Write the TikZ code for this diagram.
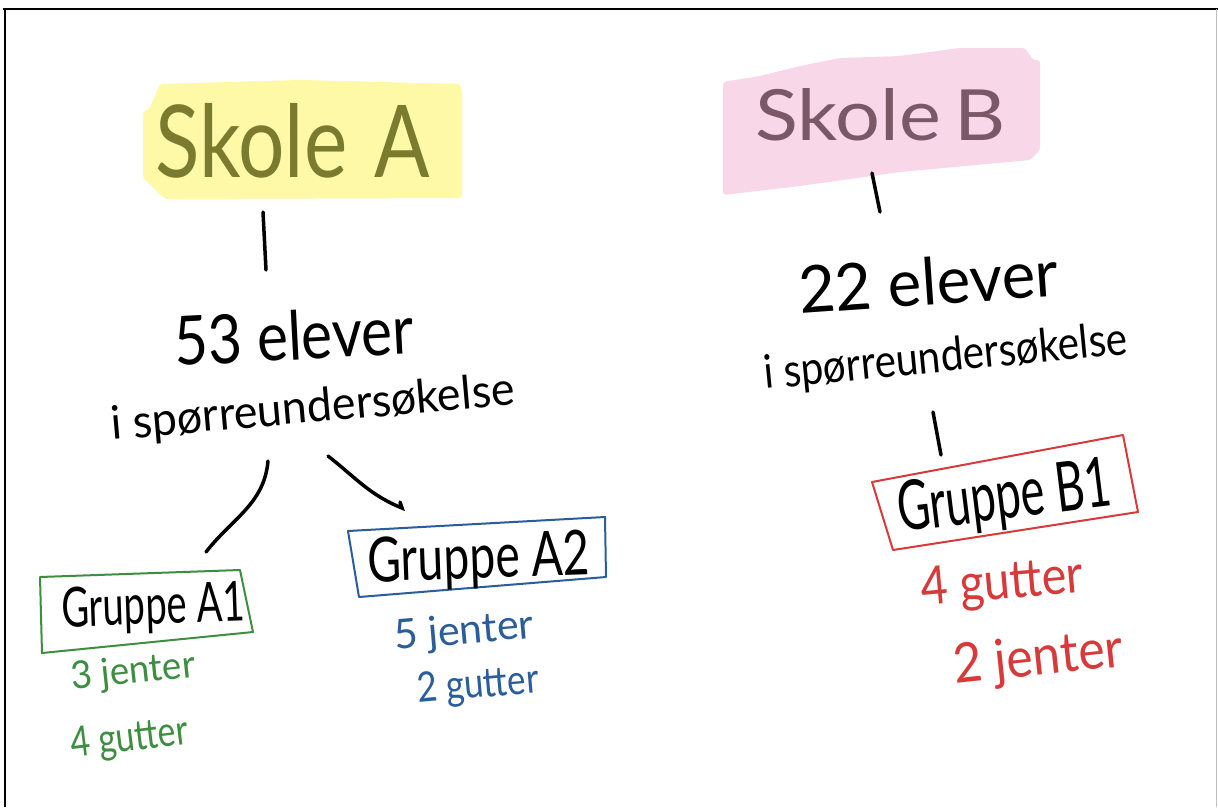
\documentclass[tikz,border=0pt]{standalone}
\usepackage{fontspec}
\setmainfont{Lato}
\definecolor{hlyellow}{HTML}{FDF9A6}
\definecolor{hlpink}{HTML}{F8D7E8}
\definecolor{olivetxt}{HTML}{7B7B30}
\definecolor{mauvetxt}{HTML}{7A5868}
\definecolor{grpgreen}{HTML}{3E8E41}
\definecolor{grpblue}{HTML}{2B5D9B}
\definecolor{grpred}{HTML}{D63A3A}
% handwritten-size text: width, height (pt), content
\newcommand{\hw}[3]{\resizebox{#1pt}{#2pt}{#3}}
\begin{document}
\begin{tikzpicture}[x=1pt,y=-1pt,
  txt/.style={inner sep=0pt,anchor=base west},
  stroke/.style={line width=3.5pt,line cap=round,black},
  grpbox/.style={line width=2pt,line join=round}]
\useasboundingbox (0,0) rectangle (1218,807);
\fill[white] (0,0) rectangle (1218,807);
% frame
\draw[line width=2.5pt] (3,9) -- (1218,9);
\draw[line width=2pt] (5,9) -- (5,807);
\draw[line width=1.5pt,black!25] (1216.5,9) -- (1216.5,807);

% highlight patches
\fill[hlyellow,rounded corners=3pt] (160,84) -- (300,80) -- (460,84) -- (462,90) -- (462,198)
  -- (165,199) -- (152,186) -- (143,178) -- (143,112) -- (150,108) -- cycle;
\fill[hlpink,rounded corners=3pt] (723,82) -- (760,76) -- (800,66) -- (840,58) -- (900,56)
  -- (960,48) -- (1025,48) -- (1033,60) -- (1040,60) -- (1040,150) -- (1030,160)
  -- (900,172) -- (800,186) -- (723,195) -- cycle;

% school titles
\node[txt,text=olivetxt] (skA) at (155,177) {\hw{275}{74}{Skole\,\,A}};
\node[txt,text=mauvetxt] (skB) at (755,140) {\hw{250}{52}{Skole\,B}};

% totals
\node[txt,rotate=3] (cntA) at (175,366) {\hw{240}{50}{53 elever}};
\node[txt,rotate=5] (surA) at (112,440) {\hw{405}{34}{i spørreundersøkelse}};
\node[txt,rotate=4] (cntB) at (800,314) {\hw{260}{48}{22 elever}};
\node[txt,rotate=5.5] (surB) at (765,389) {\hw{365}{34}{i spørreundersøkelse}};

% group boxes
\draw[grpbox,grpgreen] (40,577) -- (240,570) -- (253,632) -- (42,653) -- cycle;
\node[txt,rotate=2] (gA1) at (62,627) {\hw{183}{40}{Gruppe A1}};
\draw[grpbox,grpblue] (348,531) -- (605,517) -- (606,577) -- (359,597) -- cycle;
\node[txt,rotate=2] (gA2) at (368,582) {\hw{222}{45}{Gruppe A2}};
\draw[grpbox,grpred] (872,482) -- (1123,435) -- (1138,512) -- (893,550) -- cycle;
\node[txt,rotate=7] (gB1) at (900,532) {\hw{215}{50}{Gruppe B1}};

% group counts
\node[txt,rotate=6,text=grpgreen] (a1j) at (72,690) {\hw{125}{28}{3 jenter}};
\node[txt,rotate=7,text=grpgreen] (a1g) at (72,758) {\hw{118}{30}{4 gutter}};
\node[txt,rotate=5,text=grpblue] (a2j) at (395,650) {\hw{140}{30}{5 jenter}};
\node[txt,rotate=5,text=grpblue] (a2g) at (418,703) {\hw{122}{30}{2 gutter}};
\node[txt,rotate=5,text=grpred] (b1g) at (922,606) {\hw{163}{38}{4 gutter}};
\node[txt,rotate=6,text=grpred] (b1j) at (955,684) {\hw{170}{40}{2 jenter}};

% connector end points
\coordinate (la1) at (263,212);
\coordinate (la2) at (266,270);
\coordinate (lb1) at (872,173);
\coordinate (lb2) at (880,212);
\coordinate (lc1) at (268,461);
\coordinate (lc2) at (206,552);
\coordinate (ld1) at (328,456);
\coordinate (ld2) at (402,508);
\coordinate (le1) at (933,412);
\coordinate (le2) at (941,455);

% connectors
\draw[stroke] (la1) -- (la2);
\draw[stroke] (lb1) -- (lb2);
\draw[stroke] (lc1) to[out=-95,in=52] (lc2);
\draw[stroke] (ld1) to[out=-38,in=158] (ld2) -- ++(-2,-6);
\draw[stroke] (le1) -- (le2);
\end{tikzpicture}
\end{document}
